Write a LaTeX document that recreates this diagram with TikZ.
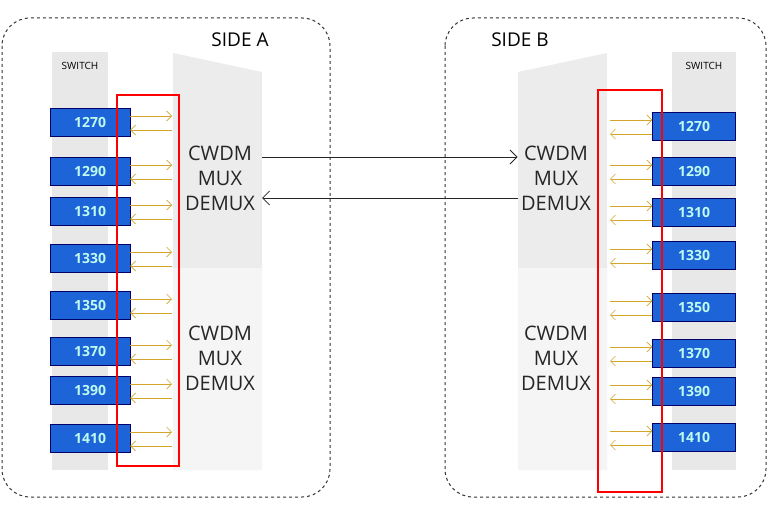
\documentclass[tikz,border=0pt]{standalone}
\usepackage{fontspec}
\setmainfont{Open Sans}
\usetikzlibrary{arrows.meta, positioning, calc}
\definecolor{portblue}{RGB}{28,100,215}
\definecolor{porttext}{RGB}{190,250,240}

\begin{document}
\begin{tikzpicture}[
    x=1pt, y=-1pt,
    >=Stealth,
    side/.style={draw, dashed, rounded corners=28pt, line width=1pt, black!80},
    column/.style={fill=gray!18},
    muxbox/.style={fill=gray!15},
    port/.style={draw=blue!40!black, fill=portblue, text=porttext, minimum width=80pt, minimum height=28pt, font=\fontsize{14}{18}\selectfont\bfseries, inner sep=0pt},
    sigr/.style={->, brown!70!yellow, semithick, >={Straight Barb[length=5pt]}},
    sigl/.style={<-, brown!70!yellow, semithick, >={Straight Barb[length=5pt]}},
    hilite/.style={draw=red, line width=1.8pt},
    link/.style={->, thick, black!85, >={Straight Barb[length=7pt]}},
    lbl/.style={font=\fontsize{20}{25}\selectfont, align=center, text=black!85},
    head/.style={font=\fontsize{19}{22}\selectfont},
    small/.style={font=\fontsize{10}{12}\selectfont},
]
\useasboundingbox (0,0) rectangle (768,519);

% === SIDE A ===
\draw[side] (2,18) rectangle (330,497);
\node[head] (sideA) at (240,40) {SIDE A};
\fill[column] (52,52) rectangle (108,470);
\node[small] (swA) at (80,66) {SWITCH};
\fill[muxbox] (173,53) -- (262,72) -- (262,470) -- (173,470) -- cycle;
\fill[gray!8] (173,268) rectangle (262,470);
\node[lbl] (muxA1) at (220,178) {CWDM\\MUX\\DEMUX};
\node[lbl] (muxA2) at (220,358) {CWDM\\MUX\\DEMUX};
\foreach \w/\y in {1270/122, 1290/171, 1310/211, 1330/258, 1350/305, 1370/351, 1390/390, 1410/438} {
    \node[port] (a\w) at (90,\y) {\w};
    \coordinate (ain\w) at (172,\y-6);
    \coordinate (aout\w) at (172,\y+8);
    \draw[sigr] (a\w.east |- ain\w) -- (ain\w);
    \draw[sigl] (a\w.east |- aout\w) -- (aout\w);
}
\draw[hilite] (117,95) rectangle (179,466);

% === SIDE B ===
\draw[side] (445,18) rectangle (766,497);
\node[head] (sideB) at (520,40) {SIDE B};
\fill[column] (672,52) rectangle (736,470);
\node[small] (swB) at (704,66) {SWITCH};
\fill[muxbox] (518,72) -- (607,53) -- (607,470) -- (518,470) -- cycle;
\fill[gray!8] (518,268) rectangle (607,470);
\node[lbl] (muxB1) at (556,178) {CWDM\\MUX\\DEMUX};
\node[lbl] (muxB2) at (556,358) {CWDM\\MUX\\DEMUX};
\foreach \w/\y in {1270/126, 1290/171, 1310/212, 1330/255, 1350/307, 1370/353, 1390/391, 1410/437} {
    \node[port, minimum width=83pt] (b\w) at (694,\y) {\w};
    \coordinate (bin\w) at (610,\y-6);
    \coordinate (bout\w) at (610,\y+8);
    \draw[sigr] (bin\w) -- (b\w.west |- bin\w);
    \draw[sigl] (bout\w) -- (b\w.west |- bout\w);
}
\draw[hilite] (598,90) rectangle (662,492);

% === LINK ===
\coordinate (aTx) at (262,157);
\coordinate (aRx) at (262,198);
\draw[link] (aTx) -- (aTx -| muxB1.west);
\draw[link] (aRx -| muxB1.west) -- (aRx);
\end{tikzpicture}
\end{document}
